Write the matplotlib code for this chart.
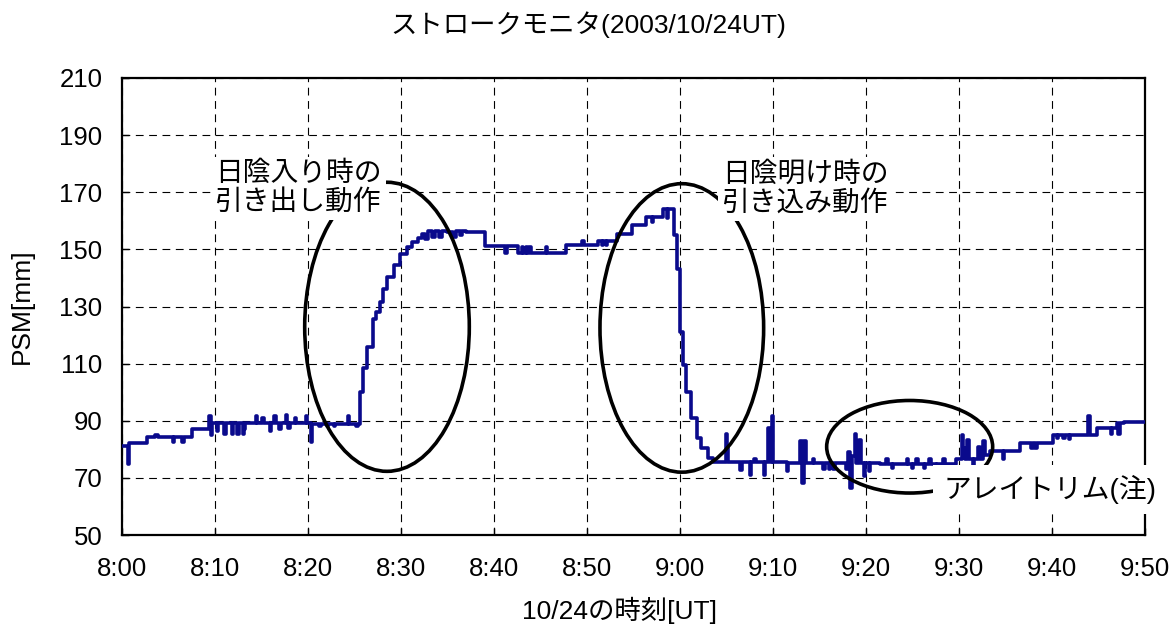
import matplotlib
matplotlib.use('Agg')
import matplotlib.pyplot as plt
from matplotlib.patches import Ellipse

plt.rcParams['font.family'] = ['Liberation Sans', 'Noto Sans CJK JP']

# minutes after 8:00 UT, PSM stroke [mm] (step values)
t_min = [0.0, 0.6, 0.75, 2.7, 3.6, 3.9, 5.5, 5.65, 6.5, 6.65, 7.5,
         9.4, 9.55, 9.7, 10.2, 10.35, 11.0, 11.15, 11.8, 11.95, 12.4, 12.55,
         13.0, 13.1, 13.25, 14.4, 14.55, 15.1, 15.25, 15.9, 16.05, 16.4, 16.55,
         16.9, 17.05, 17.6, 17.75, 17.9, 18.05, 18.6, 18.75, 19.8, 19.95,
         20.3, 20.45, 21.2, 21.35, 22.0, 22.15, 22.8, 22.95, 24.3, 24.45,
         25.2, 25.35,
         25.6, 25.9, 26.4, 27.0, 27.3, 27.7, 28.1, 28.5, 29.2, 29.9, 30.6,
         31.2, 31.8, 32.3, 32.6, 32.9, 33.3, 33.7, 34.1, 34.4, 35.0, 35.6,
         35.9, 36.3, 36.6, 37.0,
         39.0, 41.2, 41.35, 42.6, 43.0, 43.15, 43.4, 43.55, 43.8, 43.95,
         45.6, 45.75, 47.8, 49.5, 49.65, 51.2, 51.6, 51.75, 52.0, 52.15,
         53.2, 54.8, 56.4, 57.0, 57.15, 58.2, 58.6, 58.75,
         59.4, 59.65, 60.0, 60.35, 60.7, 61.2, 61.8, 62.3, 63.0, 63.5,
         64.9, 65.05, 65.2, 66.5, 66.65, 67.5, 67.65, 68.0, 68.15, 69.0, 69.15,
         69.5, 69.65, 69.9, 70.05, 71.5, 71.65, 72.9, 73.1, 73.3, 73.5,
         74.3, 74.45, 75.4, 75.55, 76.0, 76.15, 76.5, 76.65,
         77.9, 78.1, 78.3, 78.45, 78.8, 78.95, 79.3, 79.45,
         79.8, 79.95, 80.3, 80.45, 81.5,
         82.2, 82.4, 82.8, 82.95, 84.4, 84.55, 84.9, 85.05, 85.4, 85.55,
         86.2, 86.35, 86.8, 86.95, 87.5, 87.65, 88.3, 88.45,
         89.7, 90.3, 90.45, 90.6, 90.9, 91.05, 91.5, 91.65,
         92.1, 92.25, 92.6, 92.75, 93.3, 94.7, 94.85,
         96.6, 97.8, 97.95, 98.2, 98.35,
         100.1, 100.5, 100.65, 101.2, 101.35, 101.8, 101.95,
         103.9, 104.05, 104.8, 106.3, 106.45, 107.0, 107.15, 107.3,
         107.8, 110.0]
psm = [81.0, 74.8, 82.2, 84.2, 85.0, 84.2, 82.7, 84.2, 82.7, 84.2, 87.2,
       91.6, 85.0, 89.3, 86.4, 89.3, 85.2, 89.3, 85.2, 89.3, 85.2, 89.3,
       85.2, 87.0, 89.3, 91.6, 89.3, 91.0, 89.3, 86.4, 89.3, 91.6, 89.3,
       87.0, 89.3, 92.0, 89.3, 87.5, 89.3, 90.8, 89.3, 91.6, 89.3,
       82.7, 89.0, 88.0, 89.0, 88.0, 89.0, 88.0, 89.0, 91.6, 89.0,
       88.0, 89.0,
       100.0, 108.3, 116.0, 125.8, 128.0, 131.6, 136.0, 140.3, 144.4, 148.5, 150.8,
       152.5, 154.0, 155.5, 153.8, 156.3, 154.2, 156.3, 154.2, 156.3, 156.0, 154.5,
       156.5, 155.0, 156.5, 156.0,
       151.1, 148.8, 151.1, 148.7, 151.0, 148.7, 151.0, 148.7, 151.0, 148.7,
       151.0, 148.7, 151.4, 153.0, 151.4, 153.0, 151.4, 153.0, 151.4, 153.0,
       155.4, 158.4, 161.3, 159.5, 161.3, 164.2, 161.0, 164.2,
       155.0, 143.0, 121.0, 109.5, 100.2, 91.0, 84.0, 80.4, 77.0, 75.5,
       85.4, 80.5, 75.5, 72.8, 75.5, 71.0, 75.5, 76.5, 75.5, 71.0, 75.5,
       87.5, 75.5, 91.6, 75.5, 72.4, 75.2, 83.0, 68.1, 83.0, 75.2,
       76.5, 75.2, 73.0, 75.2, 73.0, 75.2, 73.0, 75.2,
       73.0, 79.0, 66.5, 77.7, 85.3, 75.2, 83.1, 75.2,
       70.6, 75.2, 72.5, 75.2, 75.0,
       76.5, 75.0, 73.5, 75.0, 76.5, 75.0, 73.5, 75.0, 76.5, 75.0,
       73.5, 75.0, 76.5, 75.0, 73.5, 75.0, 76.5, 75.0,
       76.5, 85.1, 80.5, 76.5, 83.3, 76.5, 73.0, 76.5,
       80.9, 76.5, 82.8, 78.0, 79.5, 76.7, 79.5,
       82.2, 80.5, 82.2, 80.5, 82.2,
       85.1, 84.0, 85.1, 84.0, 85.1, 83.5, 85.1,
       91.5, 85.1, 87.4, 85.2, 87.4, 89.3, 85.5, 89.3,
       89.5, 89.5]

tick_min = [0, 10, 20, 30, 40, 50, 60, 70, 80, 90, 100, 110]
tick_lbl = ['8:00', '8:10', '8:20', '8:30', '8:40', '8:50',
            '9:00', '9:10', '9:20', '9:30', '9:40', '9:50']
y_ticks = [50, 70, 90, 110, 130, 150, 170, 190, 210]

fig = plt.figure(figsize=(11.76, 6.29), dpi=100)
ax = fig.add_axes([0.1037, 0.1494, 0.8699, 0.7266])

ax.step(t_min, psm, where='post', color='#0a0a8c', lw=2.6, zorder=3)

ax.set_xlim(0, 110)
ax.set_ylim(50, 210)
ax.set_xticks(tick_min)
ax.set_xticklabels(tick_lbl)
ax.set_yticks(y_ticks)
ax.grid(True, color='black', lw=0.8, ls=(0, (7, 5)))
ax.tick_params(direction='in', length=5, width=1, labelsize=18.5)
ax.tick_params(axis='x', pad=16)
ax.tick_params(axis='y', pad=14)
for s in ax.spines.values():
    s.set_linewidth(1.6)

# ellipses marking the motions
for cx, cy, w, h in [(28.5, 122.9, 17.7, 101.2),
                     (60.2, 122.5, 17.6, 101.0),
                     (84.7, 80.9, 17.85, 32.4)]:
    ax.add_patch(Ellipse((cx, cy), w, h, fill=False, ec='black', lw=2.6,
                         zorder=4, clip_on=False))

box = dict(facecolor='white', edgecolor='none', pad=3)
ax.text(10.0, 171.4, '日陰入り時の\n引き出し動作', fontsize=20, ha='left',
        va='center', linespacing=1.15, bbox=box, zorder=5)
ax.text(64.5, 171.1, '日陰明け時の\n引き込み動作', fontsize=20, ha='left',
        va='center', linespacing=1.15, bbox=box, zorder=5)
ax.text(88.3, 66.0, 'アレイトリム(注)', fontsize=20, ha='left', va='center',
        bbox=dict(facecolor='white', edgecolor='none', pad=7), zorder=5,
        clip_on=False)

fig.text(0.5, 1 - 25 / 629, 'ストロークモニタ(2003/10/24UT)', fontsize=19,
         ha='center', va='center')
fig.text(620 / 1176, 1 - 610 / 629, '10/24の時刻[UT]', fontsize=19,
         ha='center', va='center')
fig.text(22 / 1176, 1 - 306 / 629, 'PSM[mm]', fontsize=19, rotation=90,
         ha='center', va='center')

plt.savefig('out.png', dpi=100)
